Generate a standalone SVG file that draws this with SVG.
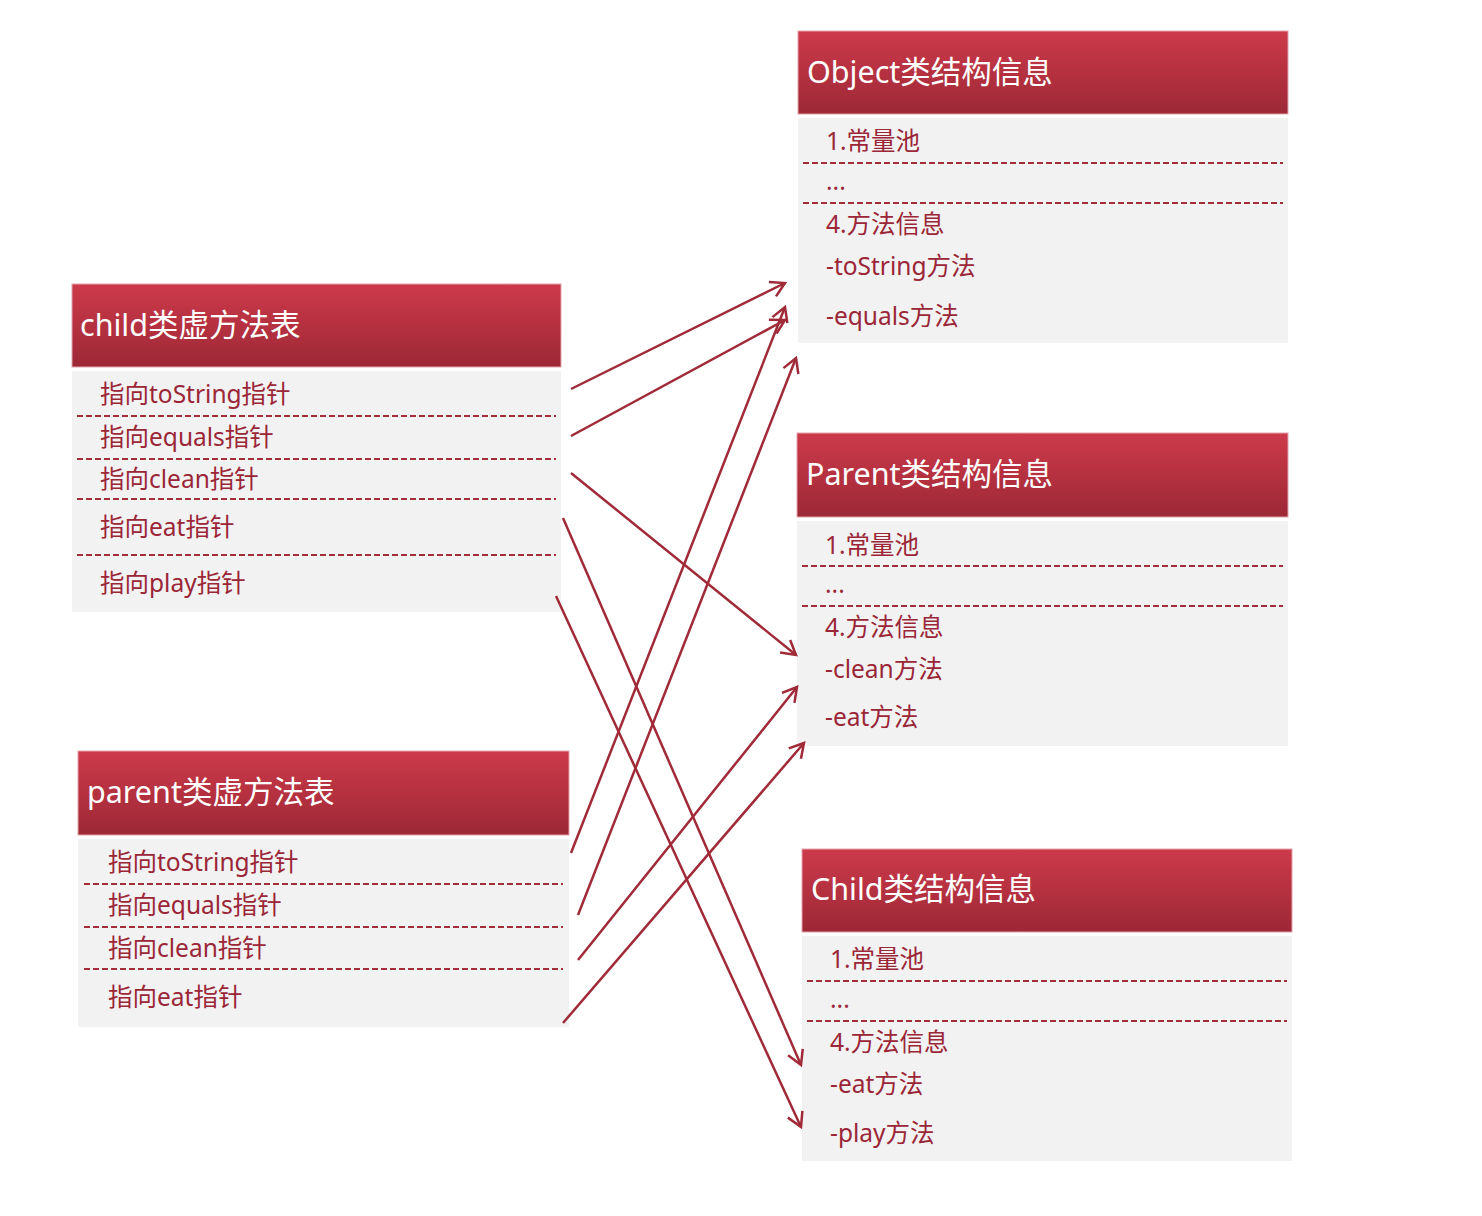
<svg xmlns="http://www.w3.org/2000/svg" width="1482" height="1216" viewBox="0 0 1482 1216">
<defs>
<linearGradient id="hg" x1="0" y1="0" x2="0" y2="1">
<stop offset="0" stop-color="#cd3a4b"/>
<stop offset="0.55" stop-color="#b3303f"/>
<stop offset="1" stop-color="#9c2836"/>
</linearGradient>
<marker id="ah" viewBox="-16 -10 18 20" refX="0" refY="0" markerWidth="18" markerHeight="20" markerUnits="userSpaceOnUse" orient="auto" overflow="visible">
<path d="M-14,-8 L0,0 L-14,8" fill="none" stroke="#a02a38" stroke-width="2.5"/>
</marker>
</defs>
<style>
.hdr{fill:url(#hg);stroke:#e3a3ab;stroke-width:1}
.body{fill:#f2f2f2}
.ht{font-family:"Noto Sans","Noto Sans CJK SC",sans-serif;font-size:30.5px;fill:#ffffff}
.bt{font-family:"Noto Sans","Noto Sans CJK SC",sans-serif;font-size:24.5px;fill:#9b2637}
.dash{stroke:#a42d3c;stroke-width:2;stroke-dasharray:6 3;fill:none}
.conn{stroke:#a02a38;stroke-width:2.5;fill:none;marker-end:url(#ah)}
</style>
<rect width="1482" height="1216" fill="#ffffff"/>

<g id="child-vtable">
<rect class="hdr" x="72" y="284" width="489" height="83"/>
<text class="ht" x="80" y="336">child类虚方法表</text>
<rect class="body" x="72" y="371" width="489" height="241"/>
<text class="bt" x="100" y="403">指向toString指针</text>
<line class="dash" x1="77" y1="416" x2="556" y2="416"/>
<text class="bt" x="100" y="446">指向equals指针</text>
<line class="dash" x1="77" y1="459" x2="556" y2="459"/>
<text class="bt" x="100" y="488">指向clean指针</text>
<line class="dash" x1="77" y1="499" x2="556" y2="499"/>
<text class="bt" x="100" y="536">指向eat指针</text>
<line class="dash" x1="77" y1="555" x2="556" y2="555"/>
<text class="bt" x="100" y="592">指向play指针</text>
</g>

<g id="parent-vtable">
<rect class="hdr" x="78" y="751" width="491" height="84"/>
<text class="ht" x="87" y="803">parent类虚方法表</text>
<rect class="body" x="78" y="839" width="491" height="188"/>
<text class="bt" x="108" y="871">指向toString指针</text>
<line class="dash" x1="84" y1="884" x2="563" y2="884"/>
<text class="bt" x="108" y="914">指向equals指针</text>
<line class="dash" x1="84" y1="927" x2="563" y2="927"/>
<text class="bt" x="108" y="957">指向clean指针</text>
<line class="dash" x1="84" y1="969" x2="563" y2="969"/>
<text class="bt" x="108" y="1006">指向eat指针</text>
</g>

<g id="object-class">
<rect class="hdr" x="798" y="31" width="490" height="83"/>
<text class="ht" x="807" y="83">Object类结构信息</text>
<rect class="body" x="798" y="118" width="490" height="225"/>
<text class="bt" x="826" y="150">1.常量池</text>
<line class="dash" x1="803" y1="163" x2="1283" y2="163"/>
<text class="bt" x="826" y="190">...</text>
<line class="dash" x1="803" y1="203" x2="1283" y2="203"/>
<text class="bt" x="826" y="233">4.方法信息</text>
<text class="bt" x="826" y="275">-toString方法</text>
<text class="bt" x="826" y="325">-equals方法</text>
</g>

<g id="parent-class">
<rect class="hdr" x="797" y="433" width="491" height="84"/>
<text class="ht" x="806" y="485">Parent类结构信息</text>
<rect class="body" x="797" y="521" width="491" height="225"/>
<text class="bt" x="825" y="554">1.常量池</text>
<line class="dash" x1="802" y1="566" x2="1283" y2="566"/>
<text class="bt" x="825" y="593">...</text>
<line class="dash" x1="802" y1="606" x2="1283" y2="606"/>
<text class="bt" x="825" y="636">4.方法信息</text>
<text class="bt" x="825" y="678">-clean方法</text>
<text class="bt" x="825" y="726">-eat方法</text>
</g>

<g id="child-class">
<rect class="hdr" x="802" y="849" width="490" height="83"/>
<text class="ht" x="811" y="900">Child类结构信息</text>
<rect class="body" x="802" y="936" width="490" height="225"/>
<text class="bt" x="830" y="968">1.常量池</text>
<line class="dash" x1="807" y1="981" x2="1287" y2="981"/>
<text class="bt" x="830" y="1008">...</text>
<line class="dash" x1="807" y1="1021" x2="1287" y2="1021"/>
<text class="bt" x="830" y="1051">4.方法信息</text>
<text class="bt" x="830" y="1093">-eat方法</text>
<text class="bt" x="830" y="1142">-play方法</text>
</g>

<g id="connectors">
<line class="conn" x1="571" y1="389" x2="785" y2="283"/>
<line class="conn" x1="571" y1="436" x2="785" y2="320"/>
<line class="conn" x1="571" y1="473" x2="796" y2="655"/>
<line class="conn" x1="563" y1="518" x2="801" y2="1065"/>
<line class="conn" x1="556" y1="596" x2="801" y2="1127"/>
<line class="conn" x1="571" y1="853" x2="785" y2="307"/>
<line class="conn" x1="578" y1="915" x2="796" y2="358"/>
<line class="conn" x1="578" y1="960" x2="797" y2="687"/>
<line class="conn" x1="563" y1="1023" x2="804" y2="743"/>
</g>
</svg>
